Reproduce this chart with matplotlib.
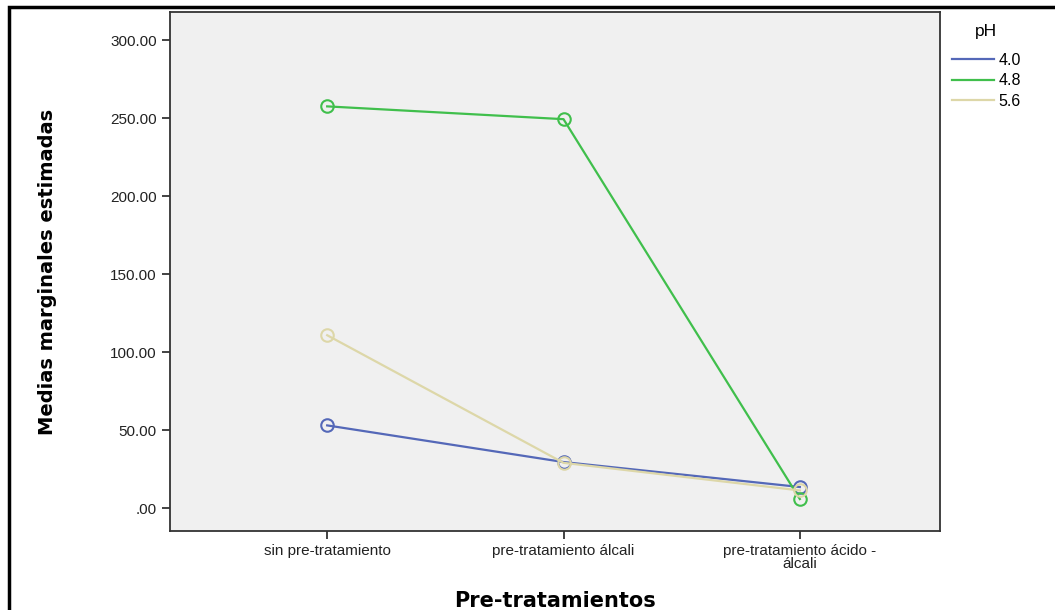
import matplotlib
matplotlib.use("Agg")
import matplotlib.pyplot as plt
from matplotlib.patches import Rectangle

categories = ["sin pre-tratamiento", "pre-tratamiento álcali", "pre-tratamiento ácido -\nálcali"]
ph_levels = ["4.0", "4.8", "5.6"]
ph_40 = [53.0, 29.5, 13.5]
ph_48 = [257.5, 249.3, 5.8]
ph_56 = [110.8, 29.0, 11.3]
colors = ["#5468b8", "#40bf4c", "#ddd7a8"]

plt.rcParams["font.family"] = ["Liberation Sans", "DejaVu Sans"]

fig = plt.figure(figsize=(10.55, 6.1), dpi=100)
ax = fig.add_axes([170 / 1055, 1 - 531 / 610, 770 / 1055, 519 / 610])
ax.set_facecolor("#f0f0f0")

x = list(range(len(categories)))
for vals, col, lab in zip([ph_40, ph_48, ph_56], colors, ph_levels):
    ax.plot(x, vals, color=col, lw=1.6, marker="o", markersize=9,
            markerfacecolor="none", markeredgecolor=col, markeredgewidth=1.5,
            label=lab)

ax.set_xlim(-0.665, 2.593)
ax.set_ylim(-14.7, 318)
ax.set_yticks([0, 50, 100, 150, 200, 250, 300])
ax.set_yticklabels([".00", "50.00", "100.00", "150.00", "200.00", "250.00", "300.00"])
ax.set_xticks(x)
ax.set_xticklabels(categories, linespacing=0.9)
ax.tick_params(axis="both", direction="out", length=6, width=1.2, labelsize=11,
               colors="#222222")
for s in ax.spines.values():
    s.set_linewidth(1.3)
    s.set_color("#333333")

ax.set_ylabel("Medias marginales estimadas", fontsize=14, fontweight="bold",
              family=["DejaVu Sans"])
ax.yaxis.set_label_coords(-113 / 770, 0.5)
ax.set_xlabel("Pre-tratamientos", fontsize=15, fontweight="bold",
              family=["DejaVu Sans"], labelpad=14)

leg = fig.legend(loc="upper left", bbox_to_anchor=(952 / 1055, 1 - 24 / 610),
                 title="pH", frameon=False, fontsize=11.5, title_fontsize=12.5,
                 handlelength=2.6, handletextpad=0.3, labelspacing=0.35,
                 borderaxespad=0, borderpad=0)
leg._legend_box.sep = 10
for h in leg.legend_handles:
    h.set_marker("")

# outer frame
fig.add_artist(Rectangle((9 / 1055, -0.1), 1.2, 1 - 7 / 610 + 0.1,
                         transform=fig.transFigure, fill=False,
                         edgecolor="black", lw=2.5))

fig.savefig("out.png", dpi=100)
